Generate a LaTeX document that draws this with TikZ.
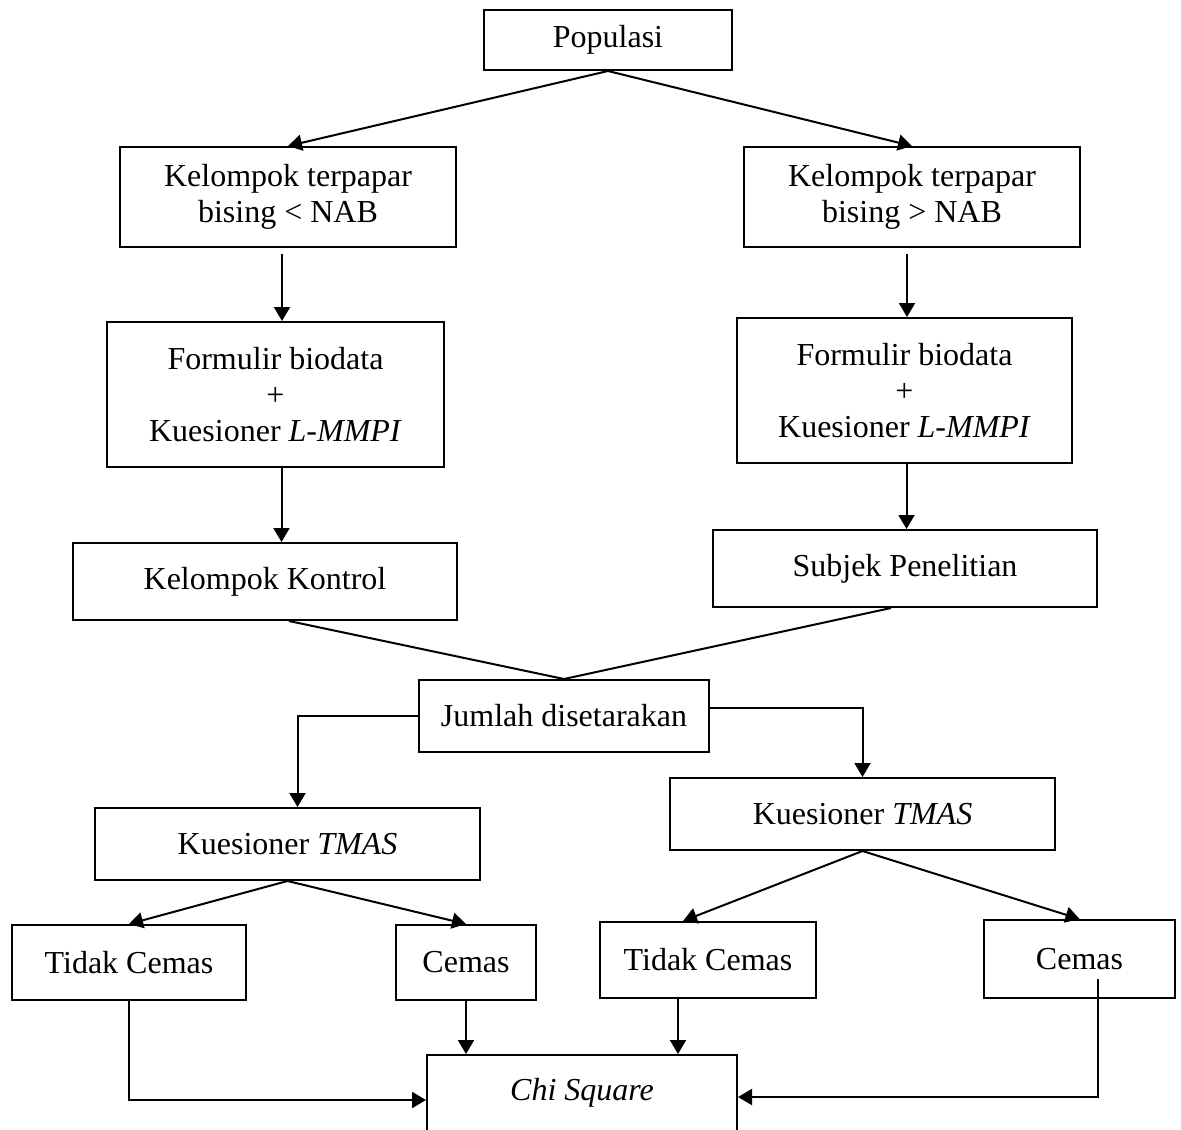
\documentclass[tikz,border=0pt]{standalone}
\usepackage{fontspec}
\setmainfont{Liberation Serif}
\usetikzlibrary{arrows.meta}

\begin{document}
\begin{tikzpicture}[x=0.5pt,y=-0.5pt,
  box/.style 2 args={draw, line width=1pt, minimum width=#1*0.5pt, minimum height=#2*0.5pt,
    inner sep=0pt, align=center, font=\fontsize{16}{18}\selectfont},
  arr/.style={line width=1pt, -{Triangle[length=7pt,width=8pt]}},
  lin/.style={line width=1pt}]
  \useasboundingbox (0,0) rectangle (1181,1129);
  \clip (0,0) rectangle (1181,1129);

  \node[box={248}{60}] (pop) at (608,40) {\raisebox{-5pt}{Populasi}};
  \node[box={336}{100}] (k1) at (288,197) {Kelompok terpapar\\bising < NAB};
  \node[box={336}{100}] (k2) at (912,197) {Kelompok terpapar\\bising > NAB};
  \node[box={337}{145}] (f1) at (275.5,394.5) {Formulir biodata\\+\\Kuesioner \textit{L-MMPI}};
  \node[box={335}{145}] (f2) at (904.5,390.5) {Formulir biodata\\+\\Kuesioner \textit{L-MMPI}};
  \node[box={384}{77}] (kk) at (265,581.5) {Kelompok Kontrol};
  \node[box={384}{77}] (sp) at (905,568.5) {Subjek Penelitian};
  \node[box={290}{72}] (jml) at (564,716) {Jumlah disetarakan};
  \node[box={385}{72}] (t1) at (287.5,844) {Kuesioner \textit{TMAS}};
  \node[box={385}{72}] (t2) at (862.5,814) {Kuesioner \textit{TMAS}};
  \node[box={234}{75}] (tc1) at (129,962.5) {Tidak Cemas};
  \node[box={140}{75}] (c1) at (466,962.5) {Cemas};
  \node[box={216}{76}] (tc2) at (708,960) {Tidak Cemas};
  \node[box={191}{78}] (c2) at (1079.5,959) {Cemas};
  \node[box={310}{76}] (chi) at (582,1093) {\textit{Chi Square}};

  \draw[arr] (pop.south) -- (k1.north);
  \draw[arr] (pop.south) -- (k2.north);
  \draw[arr] ([xshift=-3pt,yshift=-3pt]k1.south) -- ([xshift=-3pt]k1.south |- f1.north);
  \draw[arr] ([xshift=3pt]f1.south) -- ([xshift=3pt]f1.south |- kk.north);
  \draw[arr] ([xshift=-2.5pt,yshift=-3pt]k2.south) -- ([xshift=-2.5pt]k2.south |- f2.north);
  \draw[arr] ([xshift=1pt]f2.south) -- ([xshift=1pt]f2.south |- sp.north);
  \draw[lin] ([xshift=12pt]kk.south) -- (jml.north);
  \draw[lin] ([xshift=-7pt]sp.south) -- (jml.north);
  \draw[arr] (jml.west) -| ([xshift=5pt]t1.north);
  \draw[arr] ([yshift=4pt]jml.east) -| (t2.north);
  \draw[arr] (t1.south) -- (tc1.north);
  \draw[arr] (t1.south) -- (c1.north);
  \draw[arr] (t2.south) -- ([xshift=-12.5pt]tc2.north);
  \draw[arr] (t2.south) -- (c2.north);
  \draw[arr] (c1.south) -- (c1.south |- chi.north);
  \draw[arr] ([xshift=-15pt]tc2.south) -- ([xshift=-15pt]tc2.south |- chi.north);
  \draw[arr] (tc1.south) |- ([yshift=-3.5pt]chi.west);
  \draw[arr] ([xshift=9pt,yshift=10pt]c2.south) |- ([yshift=-2pt]chi.east);
\end{tikzpicture}
\end{document}
